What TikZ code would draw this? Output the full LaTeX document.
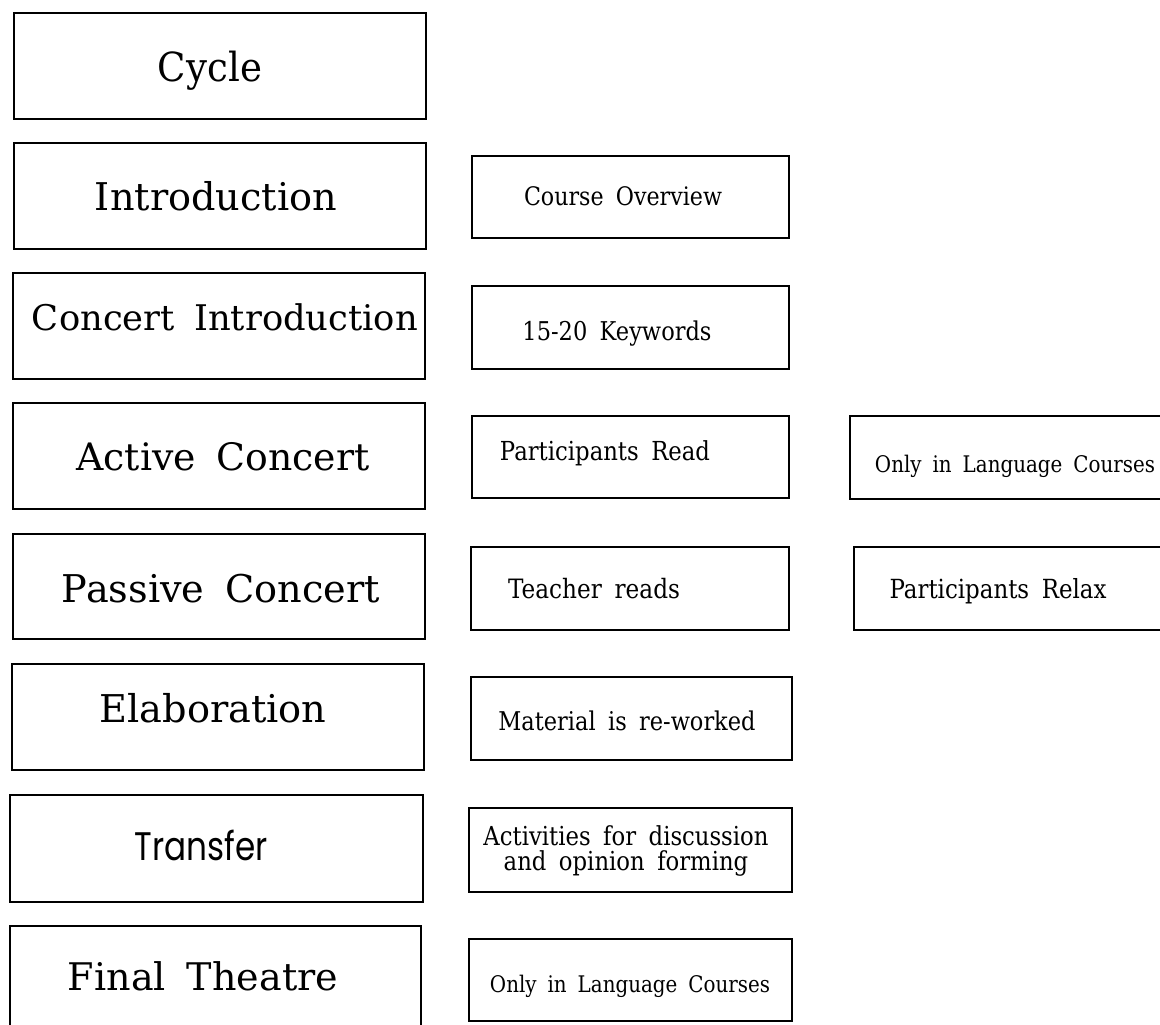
\documentclass[tikz,border=0pt]{standalone}
\usepackage{fontspec}
\usepackage{graphicx}
\setmainfont{DejaVu Serif}
\newfontfamily\geosans{Poppins}
\newcommand{\fitw}[2]{\resizebox{#1pt}{!}{#2}}
\newcommand{\fitws}[3]{\scalebox{1}[#2]{\resizebox{#1pt}{!}{#3}}}
\newcommand{\wgap}{\hspace{0.55em}}
\begin{document}
\begin{tikzpicture}[x=1pt,y=-1pt,
  box/.style={draw, line width=1.5pt, inner sep=0pt},
  ghost/.style={inner sep=0pt},
  edge/.style={line width=1.5pt},
  lbl/.style={inner sep=0pt, anchor=base}]
\useasboundingbox[fill=white] (0,0) rectangle (1160,1025);

% ---- left column ----
\node[box, minimum width=412pt, minimum height=106pt] (b-cycle) at (220,66) {};
\node[box, minimum width=412pt, minimum height=106pt] (b-intro) at (220,196) {};
\node[box, minimum width=412pt, minimum height=106pt] (b-conc) at (219,326) {};
\node[box, minimum width=412pt, minimum height=106pt] (b-active) at (219,456) {};
\node[box, minimum width=412pt, minimum height=105pt] (b-passive) at (219,586.5) {};
\node[box, minimum width=412pt, minimum height=106pt] (b-elab) at (218,717) {};
\node[box, minimum width=413pt, minimum height=107pt] (b-transfer) at (216.5,848.5) {};
\node[ghost, minimum width=411pt, minimum height=102pt] (b-final) at (215.5,977) {};
\draw[edge] (b-final.south west) -- (b-final.north west) -- (b-final.north east) -- (b-final.south east);

\node[lbl] (t-cycle) at (210,82) {\fitws{104}{1.08}{Cycle}};
\node[lbl] (t-intro) at (216,210) {\fitw{242}{Introduction}};
\node[lbl] (t-conc) at (225,330) {\fitw{386}{Concert\wgap Introduction}};
\node[lbl] (t-active) at (223,470) {\fitw{293}{Active\wgap Concert}};
\node[lbl] (t-passive) at (221,602) {\fitw{318}{Passive\wgap Concert}};
\node[lbl] (t-elab) at (213,722) {\fitw{227}{Elaboration}};
\node[lbl] (t-transfer) at (201,860) {\fitws{133}{1.22}{\geosans Transfer}};
\node[lbl] (t-final) at (203,990) {\fitw{270}{Final\wgap Theatre}};

% ---- middle column ----
\node[box, minimum width=317pt, minimum height=82pt] (b-overview) at (630.5,197) {};
\node[box, minimum width=317pt, minimum height=83pt] (b-keywords) at (630.5,327.5) {};
\node[box, minimum width=317pt, minimum height=82pt] (b-pread) at (630.5,457) {};
\node[box, minimum width=318pt, minimum height=83pt] (b-treads) at (630,588.5) {};
\node[box, minimum width=321pt, minimum height=83pt] (b-material) at (631.5,718.5) {};
\node[box, minimum width=323pt, minimum height=84pt] (b-activities) at (630.5,850) {};
\node[box, minimum width=323pt, minimum height=82pt] (b-only2) at (630.5,980) {};

\node[lbl] (t-overview) at (623,205) {\fitws{198}{1.15}{Course\wgap Overview}};
\node[lbl] (t-keywords) at (617,340) {\fitws{189}{1.15}{15-20\wgap Keywords}};
\node[lbl] (t-pread) at (605,460) {\fitws{210}{1.15}{Participants\wgap Read}};
\node[lbl] (t-treads) at (594,598) {\fitws{172}{1.15}{Teacher\wgap reads}};
\node[lbl] (t-material) at (627,730) {\fitws{257}{1.15}{Material\wgap is\wgap re-worked}};
\node[inner sep=0pt] (t-activities) at (626,852) {\fitws{285}{1.15}{\begin{tabular}{@{}c@{}}Activities\wgap for\wgap discussion\\[-2.5pt]and\wgap opinion\wgap forming\end{tabular}}};
\node[lbl] (t-only2) at (630,992) {\fitws{280}{1.15}{Only\wgap in\wgap Language\wgap Courses}};

% ---- right column ----
\node[ghost, minimum width=314pt, minimum height=83pt] (b-only1) at (1007,457.5) {};
\draw[edge] (b-only1.north east) -- (b-only1.north west) -- (b-only1.south west) -- (b-only1.south east);
\node[ghost, minimum width=310pt, minimum height=83pt] (b-relax) at (1009,588.5) {};
\draw[edge] (b-relax.north east) -- (b-relax.north west) -- (b-relax.south west) -- (b-relax.south east);

\node[lbl] (t-only1) at (1015,472) {\fitws{280}{1.15}{Only\wgap in\wgap Language\wgap Courses}};
\node[lbl] (t-relax) at (998,598) {\fitws{217}{1.15}{Participants\wgap Relax}};
\end{tikzpicture}
\end{document}
